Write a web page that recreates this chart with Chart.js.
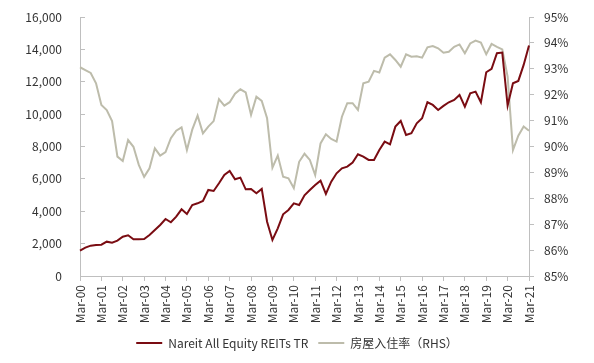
<!DOCTYPE html>
<html>
<head>
<meta charset="utf-8">
<script src="https://cdn.jsdelivr.net/npm/chart.js@4"></script>
<style>
  html, body { margin:0; padding:0; background:#fff; }
  #wrap { width:594px; height:363px; }
</style>
</head>
<body>
<div id="wrap"><canvas id="myChart"></canvas></div>
<script>
// quarterly points, Mar-00 .. Mar-21
const years = ['00','01','02','03','04','05','06','07','08','09','10','11','12','13','14','15','16','17','18','19','20','21'];
const months = ['Mar','Jun','Sep','Dec'];

const reits = [
  1565, 1750, 1875, 1915, 1936, 2122, 2060, 2184, 2430, 2513, 2266, 2266, 2287, 2534, 2843, 3152,
  3523, 3317, 3667, 4120, 3832, 4388, 4491, 4635, 5315, 5253, 5727, 6242, 6489, 5974, 6077, 5356,
  5377, 5108, 5377, 3357, 2225, 2946, 3811, 4079, 4491, 4388, 4985, 5315, 5624, 5892, 5068, 5830,
  6345, 6654, 6757, 7004, 7519, 7375, 7169, 7169, 7787, 8302, 8137, 9228, 9579, 8714, 8817, 9435,
  9744, 10732, 10568, 10259, 10506, 10732, 10877, 11186, 10465, 11289, 11392, 10732, 12586, 12793, 13760, 13802,
  10527, 11906, 12051, 13040, 14234
];

const occupancy = [
  93.06, 92.95, 92.84, 92.44, 91.60, 91.41, 90.98, 89.61, 89.44, 90.25, 89.99, 89.29, 88.83, 89.16, 89.93, 89.65,
  89.78, 90.32, 90.61, 90.74, 89.86, 90.65, 91.19, 90.51, 90.77, 90.98, 91.83, 91.58, 91.71, 92.04, 92.21, 92.09,
  91.22, 91.92, 91.76, 91.09, 89.18, 89.65, 88.83, 88.77, 88.39, 89.41, 89.72, 89.48, 88.90, 90.12, 90.47, 90.29,
  90.19, 91.15, 91.67, 91.67, 91.41, 92.44, 92.50, 92.92, 92.86, 93.43, 93.56, 93.34, 93.08, 93.56, 93.47, 93.48,
  93.43, 93.83, 93.88, 93.79, 93.62, 93.66, 93.85, 93.94, 93.60, 93.98, 94.09, 94.01, 93.56, 93.96, 93.85, 93.75,
  92.70, 89.86, 90.42, 90.77, 90.61
];

const leftTicks = [0, 16000, 2000];
const rightTicks = [85, 95, 1];

let quarters = [];
years.forEach(function(y) {
  months.forEach(function(m) {
    if (quarters.length < reits.length) quarters.push(m + '-' + y);
  });
});

const FONT = "'Noto Sans CJK SC', 'Noto Sans', sans-serif";
const AXIS = '#bfbfbf';
const TEXT = '#333333';

Chart.defaults.font.family = FONT;
Chart.defaults.font.size = 12;
Chart.defaults.color = TEXT;

// y axes: fixed width, and don't let tick padding push the plot top down
function fixY(width) {
  return function(scale) {
    scale.width = width;
    scale.paddingTop = 7;
    scale.paddingBottom = 7;
  };
}

var ctx = document.getElementById('myChart').getContext('2d');
var myChart = new Chart(ctx, {
  type: 'line',
  data: {
    labels: quarters,
    datasets: [{
      label: 'Nareit All Equity REITs TR',
      data: reits,
      borderColor: '#7a0c12',
      backgroundColor: '#7a0c12',
      borderWidth: 2,
      pointRadius: 0,
      tension: 0,
      yAxisID: 'y'
    }, {
      label: '房屋入住率（RHS）',
      data: occupancy,
      borderColor: '#bdbcab',
      backgroundColor: '#bdbcab',
      borderWidth: 2,
      pointRadius: 0,
      tension: 0,
      yAxisID: 'y1'
    }]
  },
  options: {
    responsive: true,
    maintainAspectRatio: false,
    animation: false,
    layout: {
      padding: { left: 0, right: 0, top: 17, bottom: 4 }
    },
    plugins: {
      tooltip: { enabled: false },
      legend: {
        display: true,
        position: 'bottom',
        labels: {
          usePointStyle: true,
          pointStyle: 'line',
          pointStyleWidth: 26,
          padding: 10,
          color: TEXT,
          font: { size: 12, family: FONT }
        }
      }
    },
    scales: {
      x: {
        type: 'category',
        offset: false,
        border: { display: true, color: AXIS, width: 1 },
        grid: { drawOnChartArea: false, drawTicks: true, tickLength: 5, color: AXIS },
        ticks: {
          autoSkip: false,
          maxRotation: 90,
          minRotation: 90,
          padding: 4,
          callback: function(value, index) {
            return index % 4 === 0 ? this.getLabelForValue(value) : null;
          }
        },
        afterFit: function(scale) { scale.height = 51; }
      },
      y: {
        position: 'left',
        min: leftTicks[0],
        max: leftTicks[1],
        border: { display: true, color: AXIS, width: 1 },
        grid: { drawOnChartArea: false, drawTicks: true, tickLength: -5, color: AXIS },
        ticks: {
          stepSize: leftTicks[2],
          padding: 23,
          callback: function(v) { return v.toLocaleString('en-US'); }
        },
        afterFit: fixY(80)
      },
      y1: {
        position: 'right',
        min: rightTicks[0],
        max: rightTicks[1],
        border: { display: true, color: AXIS, width: 1 },
        grid: { drawOnChartArea: false, drawTicks: true, tickLength: 5, color: AXIS },
        ticks: {
          stepSize: rightTicks[2],
          padding: 10,
          callback: function(v) { return v + '%'; }
        },
        afterFit: fixY(65)
      }
    }
  }
});
</script>
</body>
</html>
